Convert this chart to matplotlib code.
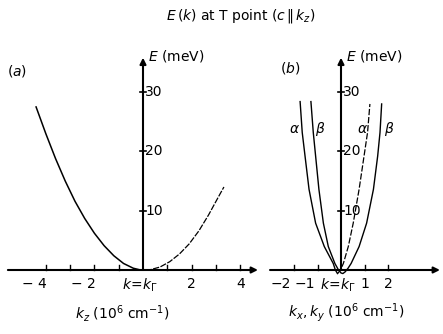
import matplotlib
matplotlib.use("Agg")
import matplotlib.pyplot as plt

# (a) dispersion along k_z, k in 10^6 cm^-1, E in meV
kz_left = [-4.40, -4.00, -3.60, -3.20, -2.80, -2.40, -2.00, -1.60, -1.20, -0.80, -0.40, -0.10, 0.10]
E_left = [27.5, 23.0, 18.8, 15.0, 11.6, 8.7, 6.2, 4.1, 2.4, 1.1, 0.3, 0.0, 0.0]
kz_right = [0.10, 0.30, 0.70, 1.10, 1.50, 1.90, 2.30, 2.70, 3.10, 3.33]
E_right = [0.0, 0.05, 0.5, 1.4, 2.7, 4.4, 6.6, 9.3, 12.3, 14.0]

# (b) dispersion perpendicular to c, two ellipsoids alpha and beta
k_alpha = [-1.74, -1.65, -1.53, -1.36, -1.08, -0.71, -0.33, -0.24, -0.15,
           -0.06, 0.02, 0.10, 0.31, 0.52, 0.77, 0.98, 1.13, 1.23]
E_alpha = [28.4, 23.2, 19.2, 13.6, 7.9, 3.95, 1.1, 0.0, -0.6,
           -0.2, 0.4, 1.1, 3.95, 7.9, 13.6, 19.2, 23.2, 28.0]
k_beta = [-1.28, -1.18, -1.08, -0.94, -0.75, -0.54, -0.26, -0.12, 0.00,
          0.08, 0.18, 0.30, 0.43, 0.77, 1.09, 1.38, 1.56, 1.66, 1.73]
E_beta = [28.4, 23.2, 19.2, 13.6, 7.9, 3.95, 1.1, 0.1, -0.5,
          -0.6, -0.3, 0.3, 1.1, 3.95, 7.9, 13.6, 19.2, 23.2, 28.0]

E_ticks = [10, 20, 30]
a_ticks = [-4, -3, -2, -1, 1, 2, 3, 4]
a_labels = {-4: "\u2212 4", -2: "\u2212 2", 2: "2", 4: "4"}
b_ticks = [-2, -1, 1, 2]
b_labels = {-2: "\u22122", -1: "\u22121", 1: "1", 2: "2"}

W, H = 443, 334
fig = plt.figure(figsize=(W / 100, H / 100), dpi=100)

y0_px, E_px = 270, 5.93   # pixel row of E=0, pixels per meV
top_px, bot_px = 45, 290


def make_axes(x_left, x_right, x_zero, k_px):
    ax = fig.add_axes([x_left / W, (H - bot_px) / H, (x_right - x_left) / W, (bot_px - top_px) / H])
    ax.set_xlim((x_left - x_zero) / k_px, (x_right - x_zero) / k_px)
    ax.set_ylim((y0_px - bot_px) / E_px, (y0_px - top_px) / E_px)
    ax.axis("off")
    return ax


def frame(ax, x_start, x_end, E_top, ticks, labels, lab_dx):
    arrow = dict(arrowstyle="-|>", lw=1.5, color="k", mutation_scale=9, shrinkA=0, shrinkB=0)
    ax.annotate("", xy=(x_end, 0), xytext=(x_start, 0), arrowprops=arrow)
    ax.annotate("", xy=(0, E_top), xytext=(0, 0), arrowprops=arrow)
    for t in ticks:
        ax.plot([t, t], [0, 0.85], color="k", lw=1.0)
    for e in E_ticks:
        ax.plot([-0.12, 0.12], [e, e], color="k", lw=1.2)
        ax.annotate(str(e), (0, e), xytext=(1.5, 0), textcoords="offset points",
                    ha="left", va="center", fontsize=10)
    for t, s in labels.items():
        if t < 0:
            ax.annotate(s, (t, 0), xytext=(lab_dx, -5), textcoords="offset points",
                        ha="right", va="top", fontsize=10)
        else:
            ax.annotate(s, (t, 0), xytext=(0, -5), textcoords="offset points",
                        ha="center", va="top", fontsize=10)
    ax.annotate(r"$k\!=\!k_\Gamma$", (0, 0), xytext=(-2, -5), textcoords="offset points",
                ha="center", va="top", fontsize=10)
    ax.annotate(r"$E$ (meV)", (0, E_top), xytext=(3.5, 1), textcoords="offset points",
                ha="left", va="center", fontsize=10)


# panel (a)
ax1 = make_axes(5, 262, 143, 24.3)
frame(ax1, -5.56, 4.73, 35.8, a_ticks, a_labels, 1)
ax1.plot(kz_left, E_left, color="k", lw=1.1)
ax1.plot(kz_right, E_right, color="k", lw=0.9, linestyle=(0, (5, 1.2)))

# panel (b)
ax2 = make_axes(265, 443, 341, 23.5)
frame(ax2, -3.02, 4.21, 35.8, b_ticks, b_labels, -2)
i_a = E_alpha.index(min(E_alpha))
ax2.plot(k_alpha[:i_a + 1], E_alpha[:i_a + 1], color="k", lw=1.0)
ax2.plot(k_alpha[i_a:], E_alpha[i_a:], color="k", lw=0.9, linestyle=(0, (5, 1.5)))
ax2.plot(k_beta, E_beta, color="k", lw=1.0)

for k, s in [(-2.0, r"$\alpha$"), (-0.9, r"$\beta$"), (0.9, r"$\alpha$"), (2.05, r"$\beta$")]:
    ax2.text(k, 23.8, s, ha="center", va="center", fontsize=10)

fig.text(7 / W, 1 - 71 / H, r"($a$)", ha="left", va="center", fontsize=10)
fig.text(280 / W, 1 - 68 / H, r"($b$)", ha="left", va="center", fontsize=10)

fig.text(241 / W, 1 - 16 / H, r"$E\,(k)$ at T point $(c\,\|\,k_z)$", ha="center", va="center", fontsize=10)
fig.text(122 / W, 1 - 313 / H, r"$k_z$ $(10^6$ cm$^{-1})$", ha="center", va="center", fontsize=10)
fig.text(346 / W, 1 - 313 / H, r"$k_x, k_y$ $(10^6$ cm$^{-1})$", ha="center", va="center", fontsize=10)

fig.savefig("out.png", dpi=100)
